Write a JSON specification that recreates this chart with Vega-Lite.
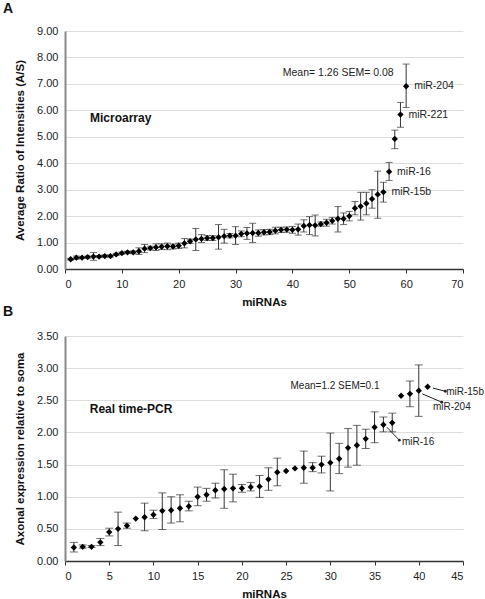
{
  "$schema": "https://vega.github.io/schema/vega-lite/v6.json",
  "padding": {"left": 3, "top": 2, "right": 0, "bottom": 0},
  "spacing": -3,
  "config": {
    "font": "Liberation Sans",
    "view": {"stroke": null},
    "axis": {"labelFont": "Liberation Sans", "labelFontSize": 11, "labelColor": "#222", "titleFont": "Liberation Sans", "titleFontSize": 11.5, "titleFontWeight": "bold", "titleColor": "#111", "gridColor": "#dddddd", "gridWidth": 1},
    "axisX": {"grid": false, "domainColor": "#333", "domainWidth": 1.5, "tickColor": "#333", "tickSize": 4, "labelPadding": 5, "titlePadding": 7},
    "axisY": {"domainColor": "#888", "domainWidth": 2, "tickSize": 0, "labelPadding": 7, "titlePadding": 11},
    "title": {"font": "Liberation Sans", "fontSize": 14, "fontWeight": "bold", "anchor": "start", "frame": "group", "color": "#111"}
  },
  "vconcat": [
    {
      "title": {"text": "A", "offset": 9, "dx": -62},
      "width": 398,
      "height": 238,
      "data": {"values": [
        {"i":1,"v":0.37,"lo":0.34,"hi":0.40},
        {"i":2,"v":0.43,"lo":0.37,"hi":0.49},
        {"i":3,"v":0.43,"lo":0.40,"hi":0.46},
        {"i":4,"v":0.45,"lo":0.41,"hi":0.49},
        {"i":5,"v":0.47,"lo":0.33,"hi":0.62},
        {"i":6,"v":0.47,"lo":0.43,"hi":0.51},
        {"i":7,"v":0.49,"lo":0.45,"hi":0.53},
        {"i":8,"v":0.49,"lo":0.45,"hi":0.53},
        {"i":9,"v":0.55,"lo":0.51,"hi":0.59},
        {"i":10,"v":0.60,"lo":0.56,"hi":0.64},
        {"i":11,"v":0.63,"lo":0.59,"hi":0.67},
        {"i":12,"v":0.63,"lo":0.58,"hi":0.68},
        {"i":13,"v":0.67,"lo":0.55,"hi":0.80},
        {"i":14,"v":0.77,"lo":0.62,"hi":0.93},
        {"i":15,"v":0.79,"lo":0.72,"hi":0.86},
        {"i":16,"v":0.82,"lo":0.70,"hi":0.95},
        {"i":17,"v":0.84,"lo":0.74,"hi":0.95},
        {"i":18,"v":0.86,"lo":0.73,"hi":0.98},
        {"i":19,"v":0.85,"lo":0.76,"hi":0.94},
        {"i":20,"v":0.88,"lo":0.78,"hi":0.98},
        {"i":21,"v":0.97,"lo":0.80,"hi":1.15},
        {"i":22,"v":1.05,"lo":0.97,"hi":1.13},
        {"i":23,"v":1.12,"lo":0.70,"hi":1.53},
        {"i":24,"v":1.14,"lo":1.00,"hi":1.30},
        {"i":25,"v":1.17,"lo":1.08,"hi":1.26},
        {"i":26,"v":1.17,"lo":1.08,"hi":1.26},
        {"i":27,"v":1.20,"lo":0.75,"hi":1.68},
        {"i":28,"v":1.24,"lo":0.98,"hi":1.50},
        {"i":29,"v":1.26,"lo":1.18,"hi":1.34},
        {"i":30,"v":1.26,"lo":0.93,"hi":1.60},
        {"i":31,"v":1.33,"lo":1.22,"hi":1.44},
        {"i":32,"v":1.35,"lo":1.12,"hi":1.57},
        {"i":33,"v":1.36,"lo":1.00,"hi":1.73},
        {"i":34,"v":1.36,"lo":1.24,"hi":1.48},
        {"i":35,"v":1.39,"lo":1.29,"hi":1.49},
        {"i":36,"v":1.40,"lo":1.30,"hi":1.50},
        {"i":37,"v":1.45,"lo":1.33,"hi":1.58},
        {"i":38,"v":1.48,"lo":1.38,"hi":1.58},
        {"i":39,"v":1.49,"lo":1.39,"hi":1.59},
        {"i":40,"v":1.48,"lo":1.35,"hi":1.61},
        {"i":41,"v":1.50,"lo":1.28,"hi":1.70},
        {"i":42,"v":1.63,"lo":1.40,"hi":1.86},
        {"i":43,"v":1.66,"lo":1.30,"hi":1.98},
        {"i":44,"v":1.65,"lo":1.25,"hi":2.04},
        {"i":45,"v":1.70,"lo":1.62,"hi":1.78},
        {"i":46,"v":1.75,"lo":1.62,"hi":1.88},
        {"i":47,"v":1.82,"lo":1.70,"hi":1.95},
        {"i":48,"v":1.90,"lo":1.40,"hi":2.36},
        {"i":49,"v":1.90,"lo":1.68,"hi":2.12},
        {"i":50,"v":2.00,"lo":1.82,"hi":2.18},
        {"i":51,"v":2.30,"lo":2.05,"hi":2.55},
        {"i":52,"v":2.37,"lo":1.85,"hi":2.90},
        {"i":53,"v":2.48,"lo":2.05,"hi":2.90},
        {"i":54,"v":2.65,"lo":2.30,"hi":3.00},
        {"i":55,"v":2.82,"lo":1.92,"hi":3.70},
        {"i":56,"v":2.91,"lo":2.53,"hi":3.28,"label":"miR-15b"},
        {"i":57,"v":3.68,"lo":3.35,"hi":4.03,"label":"miR-16"},
        {"i":58,"v":4.92,"lo":4.55,"hi":5.25},
        {"i":59,"v":5.84,"lo":5.36,"hi":6.30,"label":"miR-221"},
        {"i":60,"v":6.91,"lo":6.11,"hi":7.75,"label":"miR-204"}
      ]},
      "layer": [
        {
          "mark": {"type": "rule", "color": "#333", "strokeWidth": 1},
          "encoding": {
            "x": {"field": "i", "type": "quantitative", "scale": {"domain": [0, 70], "nice": false}, "axis": {"tickCount": 7, "title": "miRNAs"}},
            "y": {"field": "lo", "type": "quantitative", "scale": {"domain": [0, 9], "nice": false}, "axis": {"tickCount": 9, "labelOverlap": false, "format": ".2f", "title": "Average Ratio of Intensities (A/S)"}},
            "y2": {"field": "hi"}
          }
        },
        {
          "mark": {"type": "tick", "orient": "horizontal", "color": "#333", "size": 7, "thickness": 1},
          "encoding": {"x": {"field": "i", "type": "quantitative"}, "y": {"field": "lo", "type": "quantitative"}}
        },
        {
          "mark": {"type": "tick", "orient": "horizontal", "color": "#333", "size": 7, "thickness": 1},
          "encoding": {"x": {"field": "i", "type": "quantitative"}, "y": {"field": "hi", "type": "quantitative"}}
        },
        {
          "mark": {"type": "point", "shape": "diamond", "filled": true, "color": "#000", "size": 40, "opacity": 1},
          "encoding": {"x": {"field": "i", "type": "quantitative"}, "y": {"field": "v", "type": "quantitative"}}
        },
        {
          "transform": [{"filter": "datum.label != null"}],
          "mark": {"type": "text", "align": "left", "baseline": "middle", "dx": 8, "fontSize": 10.5, "color": "#222"},
          "encoding": {"x": {"field": "i", "type": "quantitative"}, "y": {"field": "v", "type": "quantitative"}, "text": {"field": "label"}}
        },
        {
          "data": {"values": [
            {"i": 38.3, "v": 7.42, "t": "Mean= 1.26 SEM= 0.08"}
          ]},
          "mark": {"type": "text", "align": "left", "baseline": "middle", "fontSize": 10.5, "color": "#222"},
          "encoding": {"x": {"field": "i", "type": "quantitative"}, "y": {"field": "v", "type": "quantitative"}, "text": {"field": "t"}}
        },
        {
          "data": {"values": [
            {"i": 4.4, "v": 5.72, "t": "Microarray"}
          ]},
          "mark": {"type": "text", "align": "left", "baseline": "middle", "fontSize": 12, "fontWeight": "bold", "color": "#111"},
          "encoding": {"x": {"field": "i", "type": "quantitative"}, "y": {"field": "v", "type": "quantitative"}, "text": {"field": "t"}}
        }
      ]
    },
    {
      "title": {"text": "B", "offset": 11, "dx": -62},
      "width": 398,
      "height": 225,
      "data": {"values": [
        {"i":1,"v":0.21,"lo":0.14,"hi":0.29},
        {"i":2,"v":0.22,"lo":0.20,"hi":0.25},
        {"i":3,"v":0.22,"lo":0.21,"hi":0.24},
        {"i":4,"v":0.29,"lo":0.24,"hi":0.35},
        {"i":5,"v":0.45,"lo":0.39,"hi":0.51},
        {"i":6,"v":0.50,"lo":0.24,"hi":0.76},
        {"i":7,"v":0.55,"lo":0.51,"hi":0.59},
        {"i":8,"v":0.66},
        {"i":9,"v":0.68,"lo":0.47,"hi":0.90},
        {"i":10,"v":0.72,"lo":0.66,"hi":0.79},
        {"i":11,"v":0.78,"lo":0.49,"hi":1.06},
        {"i":12,"v":0.79,"lo":0.59,"hi":1.00},
        {"i":13,"v":0.82,"lo":0.61,"hi":1.03},
        {"i":14,"v":0.85,"lo":0.78,"hi":0.93},
        {"i":15,"v":1.00,"lo":0.86,"hi":1.15},
        {"i":16,"v":1.03,"lo":0.93,"hi":1.13},
        {"i":17,"v":1.10,"lo":0.98,"hi":1.21},
        {"i":18,"v":1.12,"lo":0.82,"hi":1.42},
        {"i":19,"v":1.13,"lo":0.92,"hi":1.35},
        {"i":20,"v":1.13,"lo":1.07,"hi":1.19},
        {"i":21,"v":1.15,"lo":1.09,"hi":1.22},
        {"i":22,"v":1.16,"lo":0.99,"hi":1.33},
        {"i":23,"v":1.27,"lo":1.10,"hi":1.45},
        {"i":24,"v":1.38,"lo":1.17,"hi":1.60},
        {"i":25,"v":1.40},
        {"i":26,"v":1.44},
        {"i":27,"v":1.45,"lo":1.21,"hi":1.71},
        {"i":28,"v":1.45,"lo":1.39,"hi":1.53},
        {"i":29,"v":1.50,"lo":1.37,"hi":1.63},
        {"i":30,"v":1.53,"lo":1.09,"hi":1.99},
        {"i":31,"v":1.59,"lo":1.36,"hi":1.83},
        {"i":32,"v":1.76,"lo":1.46,"hi":2.06},
        {"i":33,"v":1.80,"lo":1.49,"hi":2.11},
        {"i":34,"v":1.90,"lo":1.75,"hi":2.05},
        {"i":35,"v":2.08,"lo":1.84,"hi":2.32},
        {"i":36,"v":2.12,"lo":2.01,"hi":2.24},
        {"i":37,"v":2.15,"lo":2.01,"hi":2.30},
        {"i":38,"v":2.57},
        {"i":39,"v":2.60,"lo":2.40,"hi":2.80},
        {"i":40,"v":2.65,"lo":2.25,"hi":3.05},
        {"i":41,"v":2.71}
      ]},
      "layer": [
        {
          "transform": [{"filter": "datum.lo != null"}],
          "mark": {"type": "rule", "color": "#333", "strokeWidth": 1},
          "encoding": {
            "x": {"field": "i", "type": "quantitative", "scale": {"domain": [0, 45], "nice": false}, "axis": {"tickCount": 9, "title": "miRNAs"}},
            "y": {"field": "lo", "type": "quantitative", "scale": {"domain": [0, 3.5], "nice": false}, "axis": {"tickCount": 7, "labelOverlap": false, "format": ".2f", "title": "Axonal expression relative to soma"}},
            "y2": {"field": "hi"}
          }
        },
        {
          "transform": [{"filter": "datum.lo != null"}],
          "mark": {"type": "tick", "orient": "horizontal", "color": "#333", "size": 8, "thickness": 1},
          "encoding": {"x": {"field": "i", "type": "quantitative"}, "y": {"field": "lo", "type": "quantitative"}}
        },
        {
          "transform": [{"filter": "datum.hi != null"}],
          "mark": {"type": "tick", "orient": "horizontal", "color": "#333", "size": 8, "thickness": 1},
          "encoding": {"x": {"field": "i", "type": "quantitative"}, "y": {"field": "hi", "type": "quantitative"}}
        },
        {
          "mark": {"type": "point", "shape": "diamond", "filled": true, "color": "#000", "size": 40, "opacity": 1},
          "encoding": {"x": {"field": "i", "type": "quantitative"}, "y": {"field": "v", "type": "quantitative"}}
        },
        {
          "data": {"values": [
            {"i": 41.6, "v": 2.69, "i2": 43.0, "v2": 2.64},
            {"i": 40.4, "v": 2.60, "i2": 42.6, "v2": 2.47},
            {"i": 36.4, "v": 2.08, "i2": 37.8, "v2": 1.88}
          ]},
          "mark": {"type": "rule", "color": "#222", "strokeWidth": 1},
          "encoding": {"x": {"field": "i", "type": "quantitative"}, "y": {"field": "v", "type": "quantitative"}, "x2": {"field": "i2"}, "y2": {"field": "v2"}}
        },
        {
          "data": {"values": [
            {"i": 43.0, "v": 2.64},
            {"i": 42.6, "v": 2.47},
            {"i": 37.8, "v": 1.88}
          ]},
          "mark": {"type": "point", "shape": "circle", "filled": true, "color": "#222", "size": 8, "opacity": 1},
          "encoding": {"x": {"field": "i", "type": "quantitative"}, "y": {"field": "v", "type": "quantitative"}}
        },
        {
          "data": {"values": [
            {"i": 43.1, "v": 2.63, "t": "miR-15b"},
            {"i": 41.6, "v": 2.39, "t": "miR-204"},
            {"i": 38.1, "v": 1.85, "t": "miR-16"},
            {"i": 25.5, "v": 2.72, "t": "Mean=1.2 SEM=0.1"}
          ]},
          "mark": {"type": "text", "align": "left", "baseline": "middle", "fontSize": 10, "color": "#222"},
          "encoding": {"x": {"field": "i", "type": "quantitative"}, "y": {"field": "v", "type": "quantitative"}, "text": {"field": "t"}}
        },
        {
          "data": {"values": [
            {"i": 2.8, "v": 2.36, "t": "Real time-PCR"}
          ]},
          "mark": {"type": "text", "align": "left", "baseline": "middle", "fontSize": 12, "fontWeight": "bold", "color": "#111"},
          "encoding": {"x": {"field": "i", "type": "quantitative"}, "y": {"field": "v", "type": "quantitative"}, "text": {"field": "t"}}
        }
      ]
    }
  ]
}
